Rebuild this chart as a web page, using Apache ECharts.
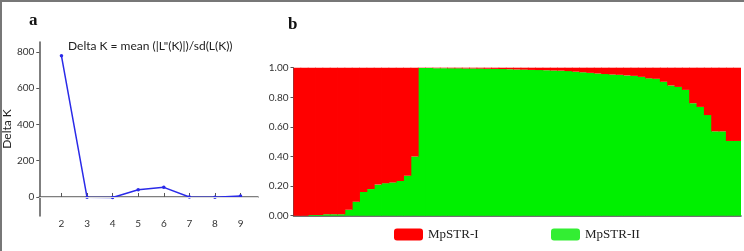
<!DOCTYPE html>
<html><head><meta charset="utf-8">
<script src="https://cdn.jsdelivr.net/npm/echarts@6/dist/echarts.min.js"></script>
<style>html,body{margin:0;padding:0;background:#fff}#c{width:744px;height:251px}</style>
</head><body><div id="c"></div>
<script>
// Panel a: Delta K by K
const kValues = [2, 3, 4, 5, 6, 7, 8, 9];
const deltaK = [779, -2, -3, 40, 53, 0, -2, 5];
const yTicksA = [0, 200, 400, 600, 800];
// Panel b: STRUCTURE membership (K=2), one bar per individual
const individuals = Array.from({length: 61}, (_, i) => 'ind' + (i + 1));
const mpstrII = [0,0,0.005,0.005,0.01,0.01,0.01,0.04,0.095,0.16,0.18,0.21,0.22,0.225,0.235,0.27,0.40,
  0.998,0.998,0.997,0.997,0.996,0.996,0.995,0.995,0.994,0.993,0.992,0.991,0.990,0.988,0.987,0.985,0.984,0.983,0.981,0.980,
  0.977,0.973,0.969,0.965,0.961,0.957,0.954,0.952,0.948,0.945,0.938,0.928,0.925,0.905,0.88,0.87,0.85,0.76,0.735,0.68,0.57,0.57,0.505,0.505];
const mpstrI = [1,1,0.995,0.995,0.99,0.99,0.99,0.96,0.905,0.84,0.82,0.79,0.78,0.775,0.765,0.73,0.60,
  0.002,0.002,0.003,0.003,0.004,0.004,0.005,0.005,0.006,0.007,0.008,0.009,0.010,0.012,0.013,0.015,0.016,0.017,0.019,0.020,
  0.023,0.027,0.031,0.035,0.039,0.043,0.046,0.048,0.052,0.055,0.062,0.072,0.075,0.095,0.12,0.13,0.15,0.24,0.265,0.32,0.43,0.43,0.495,0.495];
const clusterNames = ['MpSTR-I', 'MpSTR-II'];
const formulaText = 'Delta K = mean (|L"(K)|)/sd(L(K))';

const chart = echarts.init(document.getElementById('c'));
const axisCol = '#555';
const sans = 'Lato';
chart.setOption({
  animation: false,
  grid: [
    {left: 34, width: 224, top: 42, height: 174},
    {left: 293.5, right: 3, top: 67.7, height: 148}
  ],
  xAxis: [
    {type: 'value', gridIndex: 0, min: 1.134, max: 9.683,
      axisLine: {lineStyle: {color: axisCol, width: 1.5}},
      axisTick: {inside: true, length: 4, customValues: kValues, lineStyle: {color: axisCol}},
      axisLabel: {customValues: kValues, color: '#333', fontSize: 10, fontFamily: sans, margin: 3},
      splitLine: {show: false}},
    {type: 'category', gridIndex: 1, data: individuals, boundaryGap: true,
      axisLine: {lineStyle: {color: '#444', width: 1.5}},
      axisTick: {show: false}, axisLabel: {show: false}}
  ],
  yAxis: [
    {type: 'value', gridIndex: 0, min: -105, max: 855,
      name: 'Delta K', nameLocation: 'middle', nameGap: 20,
      nameTextStyle: {fontSize: 12, color: '#222', fontFamily: sans},
      axisLine: {show: true, lineStyle: {color: axisCol, width: 1.5}},
      axisTick: {show: true, length: 3, customValues: yTicksA, lineStyle: {color: axisCol}},
      axisLabel: {customValues: yTicksA, color: '#333', fontSize: 10, fontFamily: sans, margin: 5},
      splitLine: {show: false}},
    {type: 'value', gridIndex: 1, min: 0, max: 1, interval: 0.2,
      axisLine: {show: true, lineStyle: {color: axisCol, width: 1}},
      axisTick: {show: true, length: 3, lineStyle: {color: axisCol}},
      axisLabel: {color: '#333', fontSize: 10, fontFamily: sans, margin: 5, formatter: v => v.toFixed(2)},
      splitLine: {show: false}}
  ],
  legend: [
    {left: 389, top: 223, itemWidth: 29, itemHeight: 12, itemGap: 8,
      data: [{name: clusterNames[0], itemStyle: {color: '#ff0000', borderWidth: 0}}],
      textStyle: {fontFamily: 'Liberation Serif', fontSize: 13, color: '#222'}, selectedMode: false},
    {left: 546, top: 223, itemWidth: 29, itemHeight: 12, itemGap: 8,
      data: [{name: clusterNames[1], itemStyle: {color: '#33ee33', borderWidth: 0}}],
      textStyle: {fontFamily: 'Liberation Serif', fontSize: 13, color: '#222'}, selectedMode: false}
  ],
  series: [
    {type: 'line', xAxisIndex: 0, yAxisIndex: 0, data: kValues.map((k, i) => [k, deltaK[i]]),
      symbol: 'circle', symbolSize: 3.5, lineStyle: {color: '#2a2ae8', width: 1.5},
      itemStyle: {color: '#2a2ae8'},
      markLine: {silent: true, symbol: 'none', label: {show: false},
        lineStyle: {color: '#ddd', width: 1, type: 'solid'}, data: [{yAxis: 0}]}},
    {type: 'bar', name: clusterNames[1], xAxisIndex: 1, yAxisIndex: 1, stack: 'q', data: mpstrII,
      barWidth: 8.2, itemStyle: {color: '#00f000'}},
    {type: 'bar', name: clusterNames[0], xAxisIndex: 1, yAxisIndex: 1, stack: 'q', data: mpstrI,
      barWidth: 8.2, itemStyle: {color: '#ff0000'}}
  ],
  graphic: [
    {type: 'line', shape: {x1: 0, y1: 1, x2: 744, y2: 1}, style: {stroke: '#777', lineWidth: 2}},
    {type: 'line', shape: {x1: 1, y1: 0, x2: 1, y2: 251}, style: {stroke: '#777', lineWidth: 2}},
    {type: 'text', left: 29, top: 12, style: {text: 'a', font: 'bold 17px "Liberation Serif"', fill: '#111'}},
    {type: 'text', left: 288, top: 16, style: {text: 'b', font: 'bold 17px "Liberation Serif"', fill: '#111'}},
    {type: 'text', left: 68, top: 40, style: {text: formulaText, font: '12px Lato', fill: '#222'}}
  ]
});
</script></body></html>
